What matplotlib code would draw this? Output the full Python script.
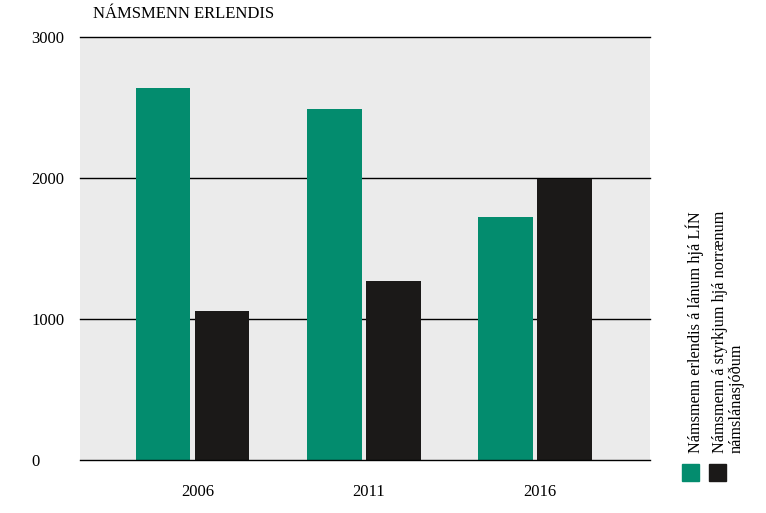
import numpy as np
import matplotlib
matplotlib.use("Agg")
import matplotlib.pyplot as plt
from matplotlib.patches import Rectangle

plt.rcParams['font.family'] = ['Liberation Serif', 'DejaVu Serif']

# data
years = ['2006', '2011', '2016']
lin_loans = [2640, 2490, 1725]
nordic_grants = [1060, 1270, 1990]
yticks = [0, 1000, 2000, 3000]

title = 'NÁMSMENN ERLENDIS'
label_lin = 'Námsmenn erlendis á lánum hjá LÍN'
label_nordic = 'Námsmenn á styrkjum hjá norrænum\nnámslánasjóðum'

green = '#038c6e'
black = '#1b1918'
bg = '#ebebeb'

W, H = 766, 513
fig = plt.figure(figsize=(W / 100, H / 100), dpi=100)
ax = fig.add_axes([80 / W, (H - 460) / H, 570 / W, 423 / H])
ax.set_facecolor(bg)

x = np.arange(len(years))
w = 0.32
gap = 0.024
ax.bar(x - w / 2 - gap / 2, lin_loans, width=w, color=green, zorder=3)
ax.bar(x + w / 2 + gap / 2, nordic_grants, width=w, color=black, zorder=3)

ax.set_xlim(-0.657, 2.672)
ax.set_ylim(0, 3000)

for v in yticks:
    # baseline goes over the bars, the rest sit behind them
    ax.axhline(v, color='#000000', lw=1.0, zorder=4 if v == 0 else 2,
               clip_on=False)

for s in ax.spines.values():
    s.set_visible(False)

ax.set_xticks(x + 0.03)
ax.set_xticklabels(years, fontsize=12)
ax.set_yticks(yticks)
ax.set_yticklabels([str(v) for v in yticks], fontsize=12, ha='left')
ax.tick_params(axis='both', length=0)
ax.tick_params(axis='y', pad=35)
ax.tick_params(axis='x', pad=17)

fig.text(93 / W, 1 - 14 / H, title, fontsize=12, ha='left', va='center')

# legend: coloured squares with vertical labels above
for px, col in [(682, green), (709, black)]:
    fig.patches.append(Rectangle((px / W, 1 - 481 / H), 17 / W, 17 / H,
                                 transform=fig.transFigure, color=col))
fig.text(686 / W, 1 - 453 / H, label_lin, rotation=90, fontsize=11.7,
         ha='left', va='bottom')
fig.text(712 / W, 1 - 453 / H, label_nordic, rotation=90, fontsize=11.7,
         ha='left', va='bottom', linespacing=1.05)

fig.savefig('out.png', dpi=100)
